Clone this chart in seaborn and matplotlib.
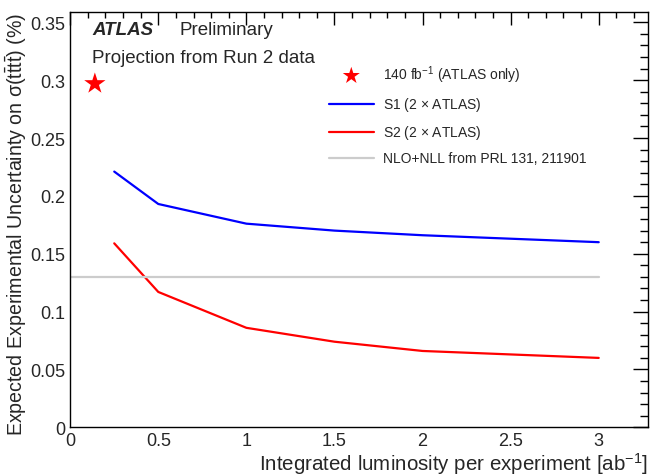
import numpy as np
import pandas as pd
import matplotlib
matplotlib.use('Agg')
import matplotlib.pyplot as plt
import seaborn as sns
from matplotlib.ticker import MultipleLocator

# luminosity per experiment [ab-1] and expected uncertainties
lumi = [0.25, 0.5, 1.0, 1.5, 2.0, 3.0]
s1 = [0.221, 0.193, 0.176, 0.170, 0.166, 0.160]
s2 = [0.159, 0.117, 0.086, 0.074, 0.066, 0.060]
theory_x = [0.0, 3.0]
theory_y = [0.13, 0.13]
run2_x = [0.14]
run2_y = [0.297]

sns.set_style('white')
plt.rcParams['font.family'] = ['Liberation Sans', 'DejaVu Sans']
plt.rcParams['mathtext.fontset'] = 'custom'
plt.rcParams['mathtext.rm'] = 'Liberation Sans'
plt.rcParams['mathtext.it'] = 'Liberation Sans:italic'
plt.rcParams['mathtext.bf'] = 'Liberation Sans:bold'

df = pd.DataFrame({'lumi': lumi, 'S1': s1, 'S2': s2})

fig = plt.figure(figsize=(6.5, 4.77), dpi=100)
ax = fig.add_axes([0.108, 0.102, 0.889, 0.871])

sns.lineplot(data=df, x='lumi', y='S1', color='#0000ff', lw=1.6, ax=ax,
             label='S1 (2 $\\times$ ATLAS)')
sns.lineplot(data=df, x='lumi', y='S2', color='#ff0000', lw=1.6, ax=ax,
             label='S2 (2 $\\times$ ATLAS)')
sns.lineplot(x=theory_x, y=theory_y, color='#cccccc', lw=1.6, ax=ax,
             label='NLO+NLL from PRL 131, 211901')
sns.scatterplot(x=run2_x, y=run2_y, marker='*', s=260, color='#ff0000',
                edgecolor='none', ax=ax, label='140 fb$^{-1}$ (ATLAS only)')

ax.set_xlim(0, 3.28)
ax.set_ylim(0, 0.359)
ax.xaxis.set_major_locator(MultipleLocator(0.5))
ax.xaxis.set_minor_locator(MultipleLocator(0.1))
ax.yaxis.set_major_locator(MultipleLocator(0.05))
ax.yaxis.set_minor_locator(MultipleLocator(0.01))
ax.set_xticks(np.arange(0, 3.01, 0.5))
ax.set_xticklabels(['0', '0.5', '1', '1.5', '2', '2.5', '3'])
ax.set_yticks(np.arange(0, 0.351, 0.05))
ax.set_yticklabels(['0', '0.05', '0.1', '0.15', '0.2', '0.25', '0.3', '0.35'])

ax.tick_params(axis='both', which='both', direction='in', top=True, right=True,
               labelsize=13, color='black', width=1)
ax.tick_params(axis='y', which='major', length=11)
ax.tick_params(axis='y', which='minor', length=5.5)
ax.tick_params(axis='x', which='major', length=9)
ax.tick_params(axis='x', which='minor', length=4.5)
ax.tick_params(axis='x', pad=3)
for sp in ax.spines.values():
    sp.set_color('black')
    sp.set_linewidth(1)

ax.set_xlabel('Integrated luminosity per experiment [ab$^{-1}$]', fontsize=14.8,
              loc='right', labelpad=1)
ax.set_ylabel('Expected Experimental Uncertainty on σ($\\mathrm{t\\bar{t}t\\bar{t}}$) (%)',
              fontsize=14.1, loc='top', labelpad=1)

ax.text(0.038, 0.958, 'ATLAS', transform=ax.transAxes, fontsize=13.5,
        fontweight='bold', fontstyle='italic', va='center')
ax.text(0.189, 0.958, 'Preliminary', transform=ax.transAxes, fontsize=13.5,
        va='center')
ax.text(0.038, 0.889, 'Projection from Run 2 data', transform=ax.transAxes,
        fontsize=13.5, va='center')

h, l = ax.get_legend_handles_labels()
order = [3, 0, 1, 2]
ax.legend([h[i] for i in order], [l[i] for i in order], loc='upper left',
          bbox_to_anchor=(0.448, 0.875), frameon=False, fontsize=10,
          handlelength=3.2, handletextpad=0.65, labelspacing=0.72,
          borderaxespad=0, borderpad=0, markerscale=0.8)

fig.savefig('out.png', dpi=100)
